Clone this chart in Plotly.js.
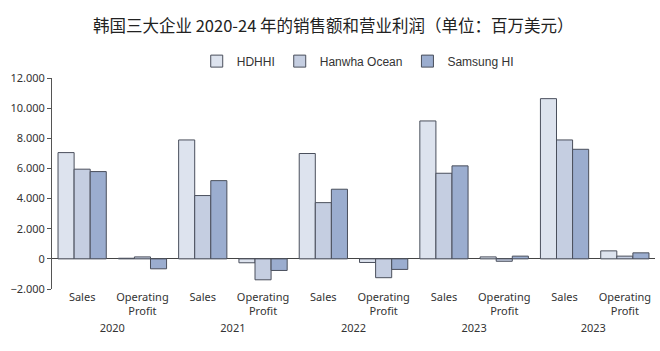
<!DOCTYPE html>
<html><head><meta charset="utf-8">
<script src="https://cdn.plot.ly/plotly-3.0.1.min.js"></script>
<style>html,body{margin:0;padding:0;background:#fff}#c{width:660px;height:351px}</style>
</head><body><div id="c"></div>
<script>
const years = ['2020', '2021', '2022', '2023', '2023 '];
const metrics = ['Sales', 'Operating<br>Profit'];
const hdhhi   = [7050, 40, 7890, -260, 6990, -240, 9150, 130, 10630, 530];
const hanwha  = [5950, 130, 4200, -1390, 3730, -1250, 5680, -160, 7890, 180];
const samsung = [5790, -660, 5190, -770, 4620, -700, 6170, 180, 7270, 400];
const seriesNames = ['HDHHI', 'Hanwha Ocean', 'Samsung HI'];
const colors = ['#dde3ee', '#c5cee1', '#9badcf'];

const xYears = [], xMetrics = [];
years.forEach(y => metrics.forEach(m => { xYears.push(y); xMetrics.push(m); }));

const traces = [hdhhi, hanwha, samsung].map((vals, i) => ({
  type: 'bar', name: seriesNames[i], x: [xYears, xMetrics], y: vals,
  marker: {color: colors[i], line: {color: '#4a4f5c', width: 1}}
}));

const layout = {
  width: 660, height: 351,
  margin: {l: 52, r: 5, t: 78, b: 62},
  paper_bgcolor: '#fff', plot_bgcolor: '#fff',
  separators: ',.',
  font: {family: '"Noto Sans", "Noto Sans CJK SC", sans-serif', color: '#333', size: 11},
  title: {text: '韩国三大企业 2020-24 年的销售额和营业利润（单位：百万美元）',
    font: {family: '"Noto Sans CJK SC", "Noto Sans", sans-serif', size: 16.5, color: '#222'},
    x: 0.505, xanchor: 'center', y: 0.925, yanchor: 'middle'},
  barmode: 'group', bargap: 0.2, bargroupgap: 0,
  showlegend: true,
  legend: {orientation: 'h', x: 0.24, xanchor: 'left', y: 1.08, yanchor: 'middle',
    font: {family: '"Liberation Sans", Arial, sans-serif', size: 12, color: '#333'},
    traceorder: 'normal', itemwidth: 30},
  xaxis: {type: 'multicategory', showdividers: false, showline: false, tickangle: 0,
    ticks: '', showgrid: false, zeroline: false, tickfont: {size: 11, color: '#333'}},
  yaxis: {range: [-2000, 12000], dtick: 2000, tickformat: ',d', showgrid: false,
    showline: true, linecolor: '#555', linewidth: 1, ticks: 'outside', ticklen: 4, tickcolor: '#555',
    zeroline: true, zerolinecolor: '#444', zerolinewidth: 1,
    tickfont: {size: 11, color: '#333'}}
};
Plotly.newPlot('c', traces, layout, {displayModeBar: false, staticPlot: true});
</script></body></html>
